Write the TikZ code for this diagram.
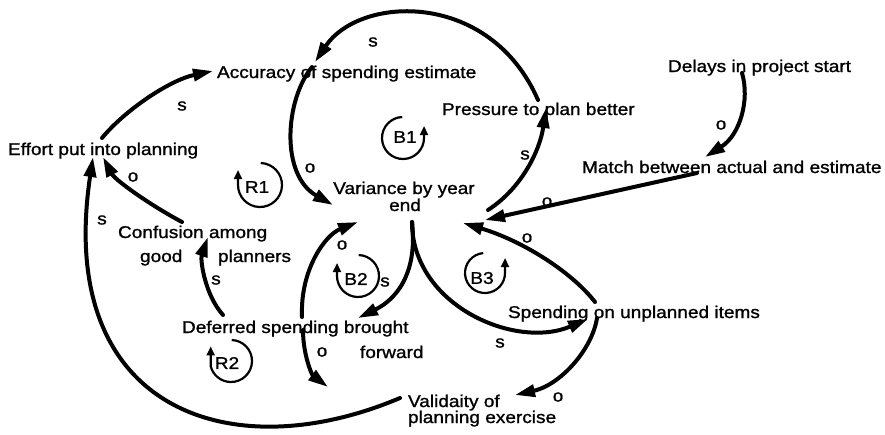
\documentclass[tikz,border=0pt]{standalone}
\usepackage{fontspec}
\setmainfont{Liberation Sans}[FakeStretch=1.12,FakeBold=1.2]
\usetikzlibrary{arrows.meta}
\begin{document}
\begin{tikzpicture}[x=1pt,y=-1pt,
  lbl/.style={font=\fontsize{17}{17}\selectfont, inner sep=0pt, outer sep=0pt},
  txt/.style={lbl, anchor=base west},
  ctr/.style={lbl, anchor=base},
  link/.style={line width=4pt, line cap=round, -{Triangle[length=20pt,width=12pt]}},
  loopl/.style={line width=2.2pt, -{Triangle[length=9pt,width=8pt]}},
]
\useasboundingbox (0,0) rectangle (885,434);

% ---- variables ----
\node[txt] (eff) at (8,155) {Effort put into planning};
\node[txt] (acc) at (217,78) {Accuracy of spending estimate};
\node[txt] (del) at (668,72) {Delays in project start};
\node[txt] (pre) at (442,115) {Pressure to plan better};
\node[txt] (mat) at (582,173) {Match between actual and estimate};
\node[ctr] (var) at (404,194) {Variance by year};
\node[ctr] (var2) at (405,211) {end};
\node[txt] (con) at (118,238) {Confusion among};
\node[txt] (con2) at (140,262) {good};
\node[txt] (con3) at (218,262) {planners};
\node[txt] (def) at (182,333) {Deferred spending brought};
\node[txt] (def2) at (360,358) {forward};
\node[txt] (spe) at (508,318) {Spending on unplanned items};
\node[txt] (val) at (408,407) {Validaity of};
\node[txt] (val2) at (408,423) {planning exercise};

% ---- connector end points ----
\coordinate (effT) at (102,138);
\coordinate (effB) at (93,157);
\coordinate (effB2) at (103,157);
\coordinate (accL) at (213,71);
\coordinate (accI) at (312,67);
\coordinate (accR) at (315,62);
\coordinate (preB) at (538,100);
\coordinate (preIn) at (546,108);
\coordinate (varL) at (333,205);
\coordinate (varR) at (488,210);
\coordinate (varS) at (412,222);
\coordinate (varBL) at (358,222);
\coordinate (varIn1) at (485,220);
\coordinate (varIn2) at (463,223);
\coordinate (delB) at (742,73);
\coordinate (matIn) at (705,157);
\coordinate (matOut) at (697,173);
\coordinate (speOut) at (595,302);
\coordinate (speIn) at (588,319);
\coordinate (speOut2) at (597,318);
\coordinate (defIn) at (358,318);
\coordinate (defUp) at (302,317);
\coordinate (defDn) at (303,330);
\coordinate (defL) at (223,315);
\coordinate (conIn) at (208,237);
\coordinate (conOut) at (182,222);
\coordinate (valIn) at (328,387);
\coordinate (valIn2) at (515,395);
\coordinate (valOut) at (400,398);

% ---- connectors ----
\draw[link] (effT) .. controls (125,110) and (170,80) .. (accL);
\draw[link] (preB) .. controls (490,-10) and (360,-5) .. (accR);
\draw[link] (accI) .. controls (285,100) and (280,175) .. (varL);
\draw[link] (varR) .. controls (522,188) and (540,150) .. (preIn);
\draw[link] (delB) .. controls (750,100) and (740,135) .. (matIn);
\draw[link] (matOut) -- (varIn1);
\draw[link] (speOut) .. controls (570,270) and (520,240) .. (varIn2);
\draw[link] (varS) .. controls (412,305) and (515,350) .. (speIn);
\draw[link] (varS) .. controls (418,275) and (395,300) .. (defIn);
\draw[link] (defUp) .. controls (300,270) and (325,235) .. (varBL);
\draw[link] (defDn) .. controls (303,355) and (312,375) .. (valIn);
\draw[link] (valOut) .. controls (230,470) and (55,410) .. (effB);
\draw[link] (conOut) .. controls (150,205) and (115,180) .. (effB2);
\draw[link] (defL) .. controls (205,295) and (200,260) .. (conIn);
\draw[link] (speOut2) .. controls (592,350) and (560,385) .. (valIn2);

% ---- polarity labels ----
\node[lbl] (l1) at (373,42) {s};
\node[lbl] (l2) at (182,106) {s};
\node[lbl] (l3) at (310,168) {o};
\node[lbl] (l4) at (525,155) {s};
\node[lbl] (l5) at (721,125) {o};
\node[lbl] (l6) at (547,202) {o};
\node[lbl] (l7) at (527,238) {o};
\node[lbl] (l8) at (500,343) {s};
\node[lbl] (l9) at (558,397) {o};
\node[lbl] (l10) at (133,177) {o};
\node[lbl] (l11) at (102,220) {s};
\node[lbl] (l12) at (216,280) {s};
\node[lbl] (l13) at (342,245) {o};
\node[lbl] (l14) at (385,282) {s};
\node[lbl] (l15) at (322,352) {o};

% ---- loop markers ----
\node[lbl] (B1) at (405,137) {B1};
\draw[loopl] (403,138) ++(268:21) arc[start angle=268, end angle=0, radius=21] -- ++(0,-12);
\node[lbl] (R1) at (257,187) {R1};
\draw[loopl] (260,185) ++(272:22) arc[start angle=272, end angle=540, radius=22] -- ++(0,-15);
\node[lbl] (B2) at (356,279) {B2};
\draw[loopl] (358,276) ++(272:21) arc[start angle=272, end angle=540, radius=21] -- ++(0,-13);
\node[lbl] (B3) at (482,278) {B3};
\draw[loopl] (485,273) ++(265:20) arc[start angle=265, end angle=0, radius=20] -- ++(0,-15);
\node[lbl] (R2) at (227,363) {R2};
\draw[loopl] (231,361) ++(272:21) arc[start angle=272, end angle=525, radius=21] -- ++(0,-20);
\end{tikzpicture}
\end{document}
